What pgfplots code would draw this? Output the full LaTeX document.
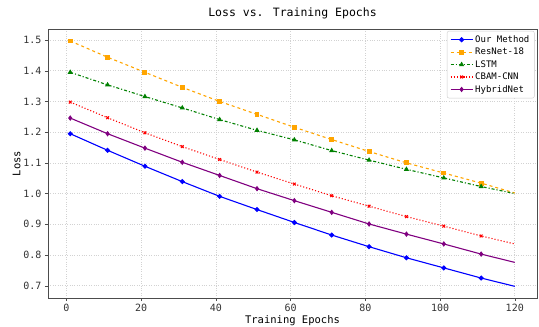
\documentclass[border=0pt]{standalone}
\usepackage{fontspec}
\setmainfont{DejaVu Sans Mono}
\usepackage{pgfplots}
\pgfplotsset{compat=1.18}
\definecolor{cblue}{HTML}{0000FF}
\definecolor{corange}{HTML}{FFA500}
\definecolor{cgreen}{HTML}{008000}
\definecolor{cred}{HTML}{FF0000}
\definecolor{cpurple}{HTML}{800080}
\pgfplotsset{
 mi/.style={mark indices={1,2,3,4,5,6,7,8,9,10,11,12}},
}
\begin{document}
\begin{tikzpicture}
\path[use as bounding box] (-48pt,-29pt) rectangle (491pt,298pt);
\begin{axis}[
 at={(0,0)}, anchor=south west,
 scale only axis, width=489pt, height=269pt,
 xmin=-4.95, xmax=125.95, ymin=0.66, ymax=1.536,
 xtick={0,20,40,60,80,100,120},
 ytick={0.7,0.8,0.9,1.0,1.1,1.2,1.3,1.4,1.5},
 yticklabel style={/pgf/number format/.cd, fixed, fixed zerofill, precision=1},
 /pgf/number format/assume math mode=true,
 tick label style={font=\fontsize{10}{12}\selectfont, text=black!80},
 label style={font=\fontsize{10.5}{12}\selectfont},
 title style={font=\fontsize{11.5}{13}\selectfont, yshift=0pt},
 title={Loss vs. Training Epochs},
 xlabel={Training Epochs}, ylabel={Loss},
 xlabel style={yshift=3pt}, ylabel style={yshift=-4pt},
 grid=major, grid style={gray!35, dotted, line width=0.6pt},
 tick align=outside, tick pos=left,
 major tick length=3pt,
 axis line style={black!70},
 every tick/.style={black!70},
 legend style={font=\fontsize{9}{11}\selectfont, draw=black!20, rounded corners=2pt, at={(0.995,0.993)}, anchor=north east, row sep=0.2pt, inner sep=2.5pt, inner xsep=3pt},
 legend cell align=left,
 legend image code/.code={\draw[mark indices={2}] plot coordinates {(0pt,0pt) (11pt,0pt) (22pt,0pt)};},
 every axis plot/.append style={line width=1.1pt, mark size=1.9pt},
]
\addplot[cblue, mark=*, mi] coordinates {
(1,1.195) (11,1.141) (21,1.089) (31,1.039) (41,0.991) (51,0.948) (61,0.906) (71,0.865) (81,0.827) (91,0.791) (101,0.758) (111,0.725) (120,0.698)};
\addlegendentry{Our Method}
\addplot[corange, mark=square*, dashed, mark options={solid}, mi] coordinates {
(1,1.497) (11,1.444) (21,1.395) (31,1.346) (41,1.300) (51,1.258) (61,1.216) (71,1.176) (81,1.137) (91,1.100) (101,1.067) (111,1.034) (120,1.002)};
\addlegendentry{ResNet-18}
\addplot[cgreen, mark=triangle*, dashdotted, mark options={solid}, mi] coordinates {
(1,1.395) (11,1.354) (21,1.316) (31,1.279) (41,1.241) (51,1.206) (61,1.175) (71,1.140) (81,1.109) (91,1.079) (101,1.051) (111,1.023) (120,1.000)};
\addlegendentry{LSTM}
\addplot[cred, mark=x, dotted, mark options={solid}, mi] coordinates {
(1,1.298) (11,1.247) (21,1.198) (31,1.153) (41,1.111) (51,1.070) (61,1.031) (71,0.993) (81,0.959) (91,0.925) (101,0.894) (111,0.862) (120,0.836)};
\addlegendentry{CBAM-CNN}
\addplot[cpurple, mark=diamond*, mi] coordinates {
(1,1.246) (11,1.195) (21,1.148) (31,1.102) (41,1.059) (51,1.016) (61,0.977) (71,0.939) (81,0.901) (91,0.868) (101,0.836) (111,0.803) (120,0.776)};
\addlegendentry{HybridNet}
\end{axis}
\end{tikzpicture}
\end{document}
